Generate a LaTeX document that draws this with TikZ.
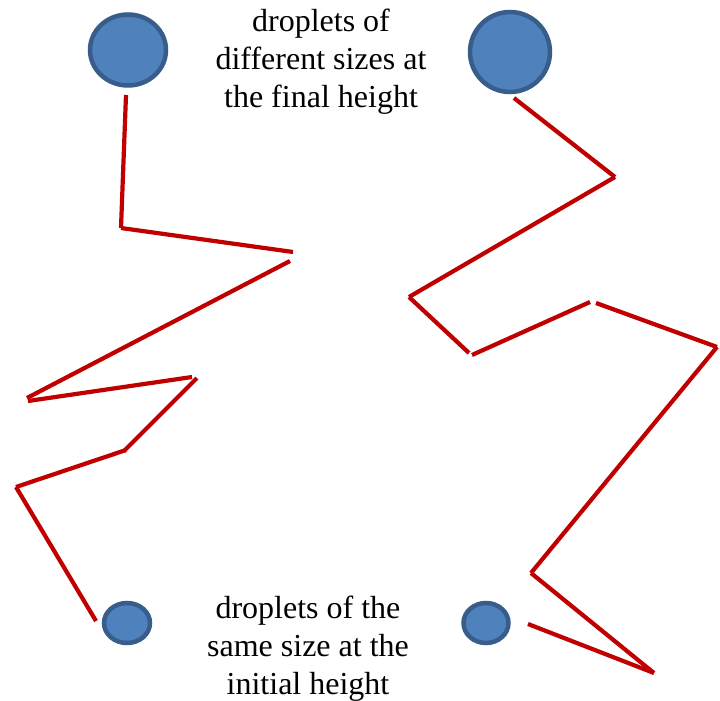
\documentclass[tikz,border=0pt]{standalone}
\usepackage{fontspec}
\setmainfont{Liberation Serif}
\usetikzlibrary{shapes.geometric}
\definecolor{dropfill}{RGB}{79,129,189}
\definecolor{dropedge}{RGB}{56,93,138}
\definecolor{trackred}{RGB}{192,0,0}

\begin{document}
\begin{tikzpicture}[x=1pt, y=-1pt,
    drop/.style={ellipse, draw=dropedge, fill=dropfill, line width=4.5pt, inner sep=0pt},
    track/.style={trackred, line width=4.2pt},
    caption/.style={align=center, font=\fontsize{32}{38}\selectfont}]
        \useasboundingbox (0,0) rectangle (720,701);
        % droplets
        \node[drop, minimum width=76pt, minimum height=71pt] (bigL) at (128,50) {};
        \node[drop, minimum width=80pt, minimum height=80pt] (bigR) at (510,52) {};
        \node[drop, minimum width=46pt, minimum height=40pt] (smallL) at (127,623) {};
        \node[drop, minimum width=45pt, minimum height=40pt] (smallR) at (486,623) {};
        % left track
        \coordinate (l0) at (126,95);
        \coordinate (l1) at (121,228);
        \coordinate (l2) at (293,252);
        \coordinate (l3) at (290,261);
        \coordinate (l4) at (27,398);
        \coordinate (l5) at (28,401);
        \coordinate (l6) at (192,377);
        \coordinate (l7) at (197,378);
        \coordinate (l8) at (124,451);
        \coordinate (l9) at (126,450);
        \coordinate (l10) at (16,487);
        \coordinate (l11) at (96,621);
        % right track
        \coordinate (r0) at (514,98);
        \coordinate (r1) at (615,177);
        \coordinate (r2) at (409,297);
        \coordinate (r3) at (469,353);
        \coordinate (r4) at (472,355);
        \coordinate (r5) at (590,302);
        \coordinate (r6) at (596,303);
        \coordinate (r7) at (717,347);
        \coordinate (r8) at (531,573);
        \coordinate (r9) at (654,673);
        \coordinate (r10) at (528,624);
        \foreach \a/\b in {l0/l1,l1/l2,l3/l4,l5/l6,l7/l8,l9/l10,l10/l11,
                           r0/r1,r1/r2,r2/r3,r4/r5,r6/r7,r7/r8,r8/r9,r10/r9} {
          \draw[track] (\a) -- (\b);
        }
        % captions
        \node[caption] (final) at (321,62) {droplets of\\different sizes at\\the final height};
        \node[caption] (initial) at (308,649) {droplets of the\\same size at the\\initial height};
      \end{tikzpicture}
\end{document}
